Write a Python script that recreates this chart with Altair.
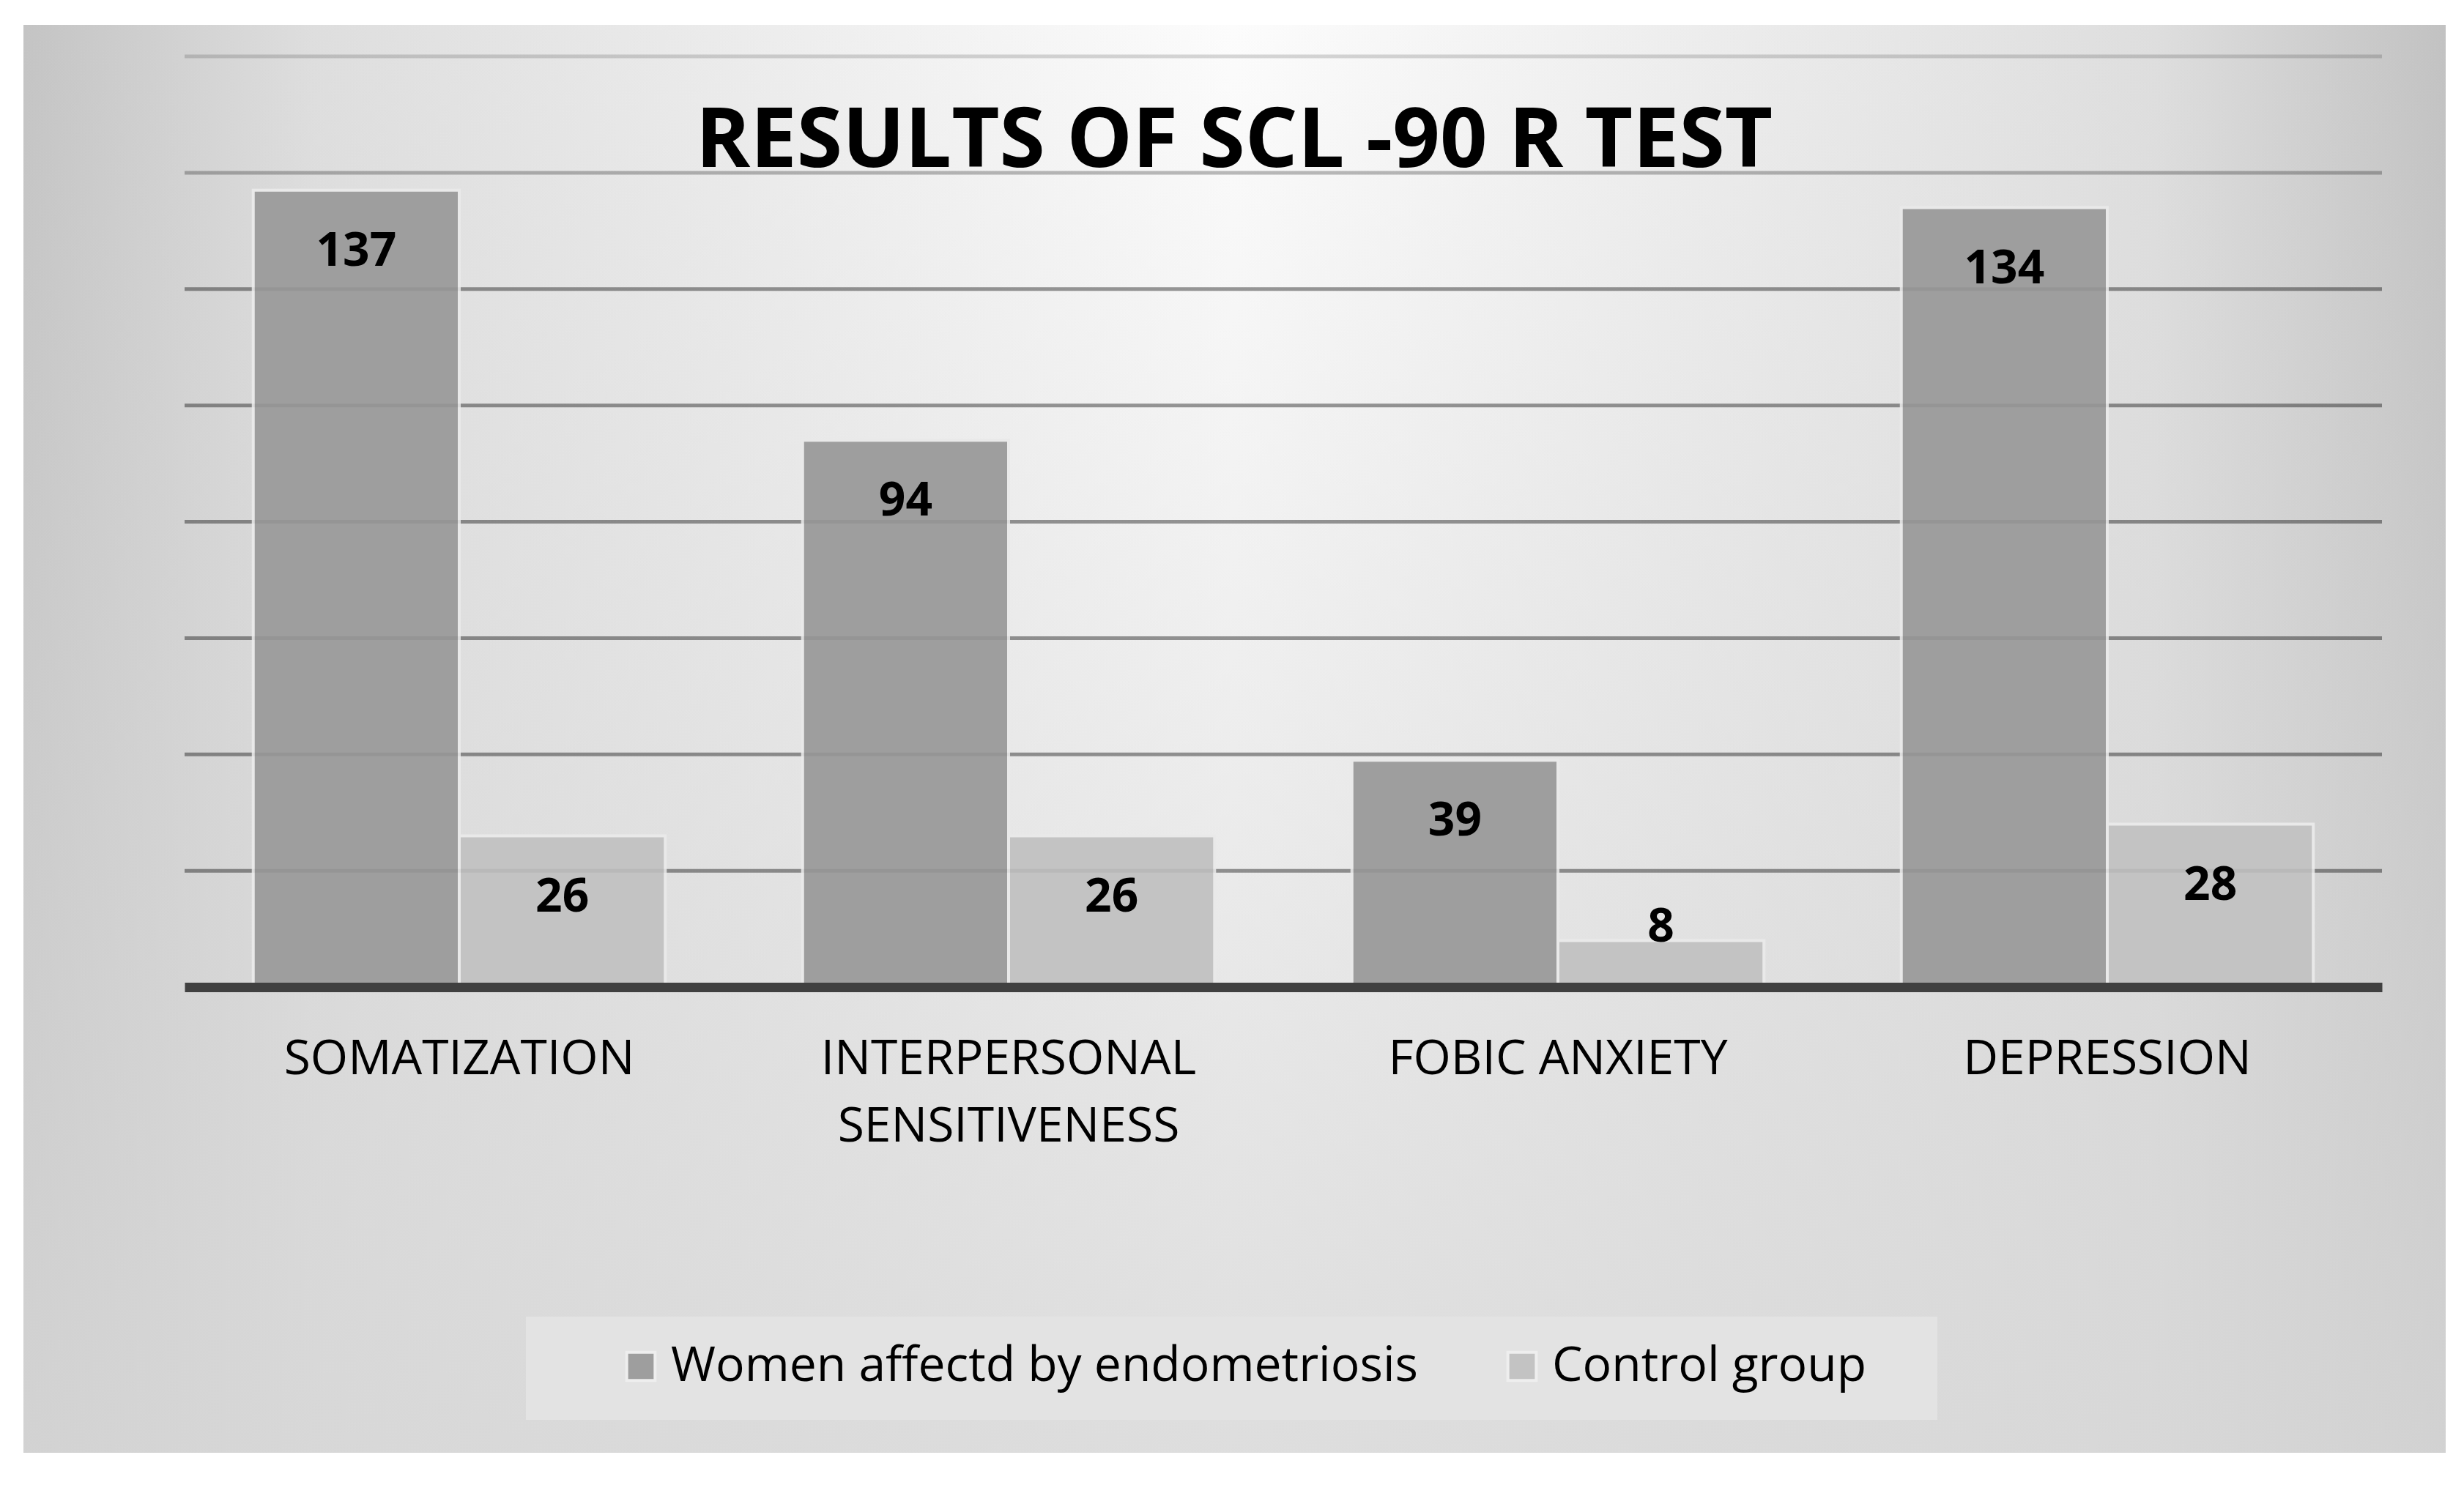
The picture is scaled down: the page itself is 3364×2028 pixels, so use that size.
import altair as alt
import pandas as pd

categories = ["SOMATIZATION", "INTERPERSONAL SENSITIVENESS", "FOBIC ANXIETY", "DEPRESSION"]
women = [137, 94, 39, 134]
control = [26, 26, 8, 28]
series = ["Women affectd by endometriosis", "Control group"]
title_text = "RESULTS OF SCL -90 R TEST"
grid_values = [20, 40, 60, 80, 100, 120, 140, 160]

rows = []
for c, w, k in zip(categories, women, control):
    rows.append({"category": c, "group": series[0], "value": w})
    rows.append({"category": c, "group": series[1], "value": k})
df = pd.DataFrame(rows)
grid_df = pd.DataFrame({"g": grid_values})
one = pd.DataFrame({"k": [0]})

W, H = 3000, 1271
yscale = alt.Scale(domain=[0, 160], nice=False, zero=True)
xscale = alt.Scale(domain=categories, paddingInner=0.25, paddingOuter=0.125)

x_enc = alt.X(
    "category:N", sort=categories, scale=xscale,
    axis=alt.Axis(
        title=None, labelFont="Open Sans", labelFontSize=66, labelColor="#000000",
        labelPadding=66, labelLineHeight=92, labelLimit=1200, labelAngle=0,
        labelBaseline="top",
        labelExpr="length(datum.label) > 16 ? split(datum.label, ' ') : datum.label",
        ticks=False, tickSize=0, domain=True, domainColor="#404040", domainWidth=13,
        grid=False, zindex=1,
    ),
)
y_axis = alt.Axis(title=None, labels=False, ticks=False, domain=False, grid=False)
xoff = alt.XOffset("group:N", sort=series, scale=alt.Scale(domain=series))

# background gradients
bg_h = alt.Chart(one).mark_rect(
    fill=alt.LinearGradient(
        gradient="linear", x1=0, x2=1, y1=0, y2=0,
        stops=[
            alt.GradientStop(color="#c4c4c4", offset=0),
            alt.GradientStop(color="#dedede", offset=0.12),
            alt.GradientStop(color="#fcfcfc", offset=0.5),
            alt.GradientStop(color="#dedede", offset=0.88),
            alt.GradientStop(color="#c2c2c2", offset=1),
        ],
    )
).encode(x=alt.value(-220), x2=alt.value(3087), y=alt.value(-43), y2=alt.value(1907))

bg_v = alt.Chart(one).mark_rect(
    fill=alt.LinearGradient(
        gradient="linear", x1=0, x2=0, y1=0, y2=1,
        stops=[
            alt.GradientStop(color="rgba(214,214,214,0)", offset=0),
            alt.GradientStop(color="rgba(214,214,214,0.35)", offset=0.45),
            alt.GradientStop(color="rgba(214,214,214,0.8)", offset=1),
        ],
    )
).encode(x=alt.value(-220), x2=alt.value(3087), y=alt.value(-43), y2=alt.value(1907))

legend_box = alt.Chart(one).mark_rect(fill="#e3e3e3").encode(
    x=alt.value(466), x2=alt.value(2393), y=alt.value(1721), y2=alt.value(1862)
)

grid_under = alt.Chart(grid_df).transform_calculate(
    op="datum.g >= 160 ? 0.10 : datum.g >= 140 ? 0.22 : 0.36"
).mark_rule(strokeWidth=5, color="#000000").encode(
    y=alt.Y("g:Q", scale=yscale, axis=y_axis),
    opacity=alt.Opacity("op:Q", scale=None),
)

bars = alt.Chart(df).mark_bar(stroke="#e9e9e9", strokeWidth=4).encode(
    x=x_enc,
    xOffset=xoff,
    y=alt.Y("value:Q", scale=yscale, axis=y_axis),
    color=alt.Color(
        "group:N", sort=series,
        scale=alt.Scale(domain=series, range=["#9e9e9e", "#c3c3c3"]),
        legend=alt.Legend(
            title=None, orient="none", legendX=590, legendY=1756, direction="horizontal",
            labelFont="Open Sans", labelFontSize=66, labelColor="#000000", labelLimit=2000,
            symbolType="square", symbolSize=1500, symbolStrokeColor="#eeeeee",
            symbolStrokeWidth=4, labelOffset=8, columnPadding=108, padding=0,
        ),
    ),
)

grid_over = alt.Chart(grid_df).mark_rule(strokeWidth=5, color="#000000", opacity=0.05).encode(
    y=alt.Y("g:Q", scale=yscale, axis=y_axis)
)

labels = alt.Chart(df).transform_calculate(
    lab="max(datum.value - 10.6, 10.2)"
).mark_text(
    font="Open Sans", fontWeight="bold", fontSize=64, color="#000000", baseline="middle"
).encode(
    x=x_enc,
    xOffset=xoff,
    y=alt.Y("lab:Q", scale=yscale, axis=y_axis),
    text=alt.Text("value:Q"),
)

chart = alt.layer(bg_h, bg_v, legend_box, grid_under, bars, grid_over, labels).properties(
    width=W, height=H,
    title=alt.TitleParams(
        title_text, font="Open Sans", fontWeight="bold", fontSize=113,
        color="#000000", anchor="middle", frame="group", dx=-67, offset=-307,
        baseline="alphabetic",
    ),
    autosize=alt.AutoSizeParams(type="none"),
    padding={"left": 244, "top": 69, "right": 104, "bottom": 672},
    background="#ffffff",
).configure_view(stroke=None)

chart.save("out.html", embed_options={"renderer": "svg", "actions": False})
